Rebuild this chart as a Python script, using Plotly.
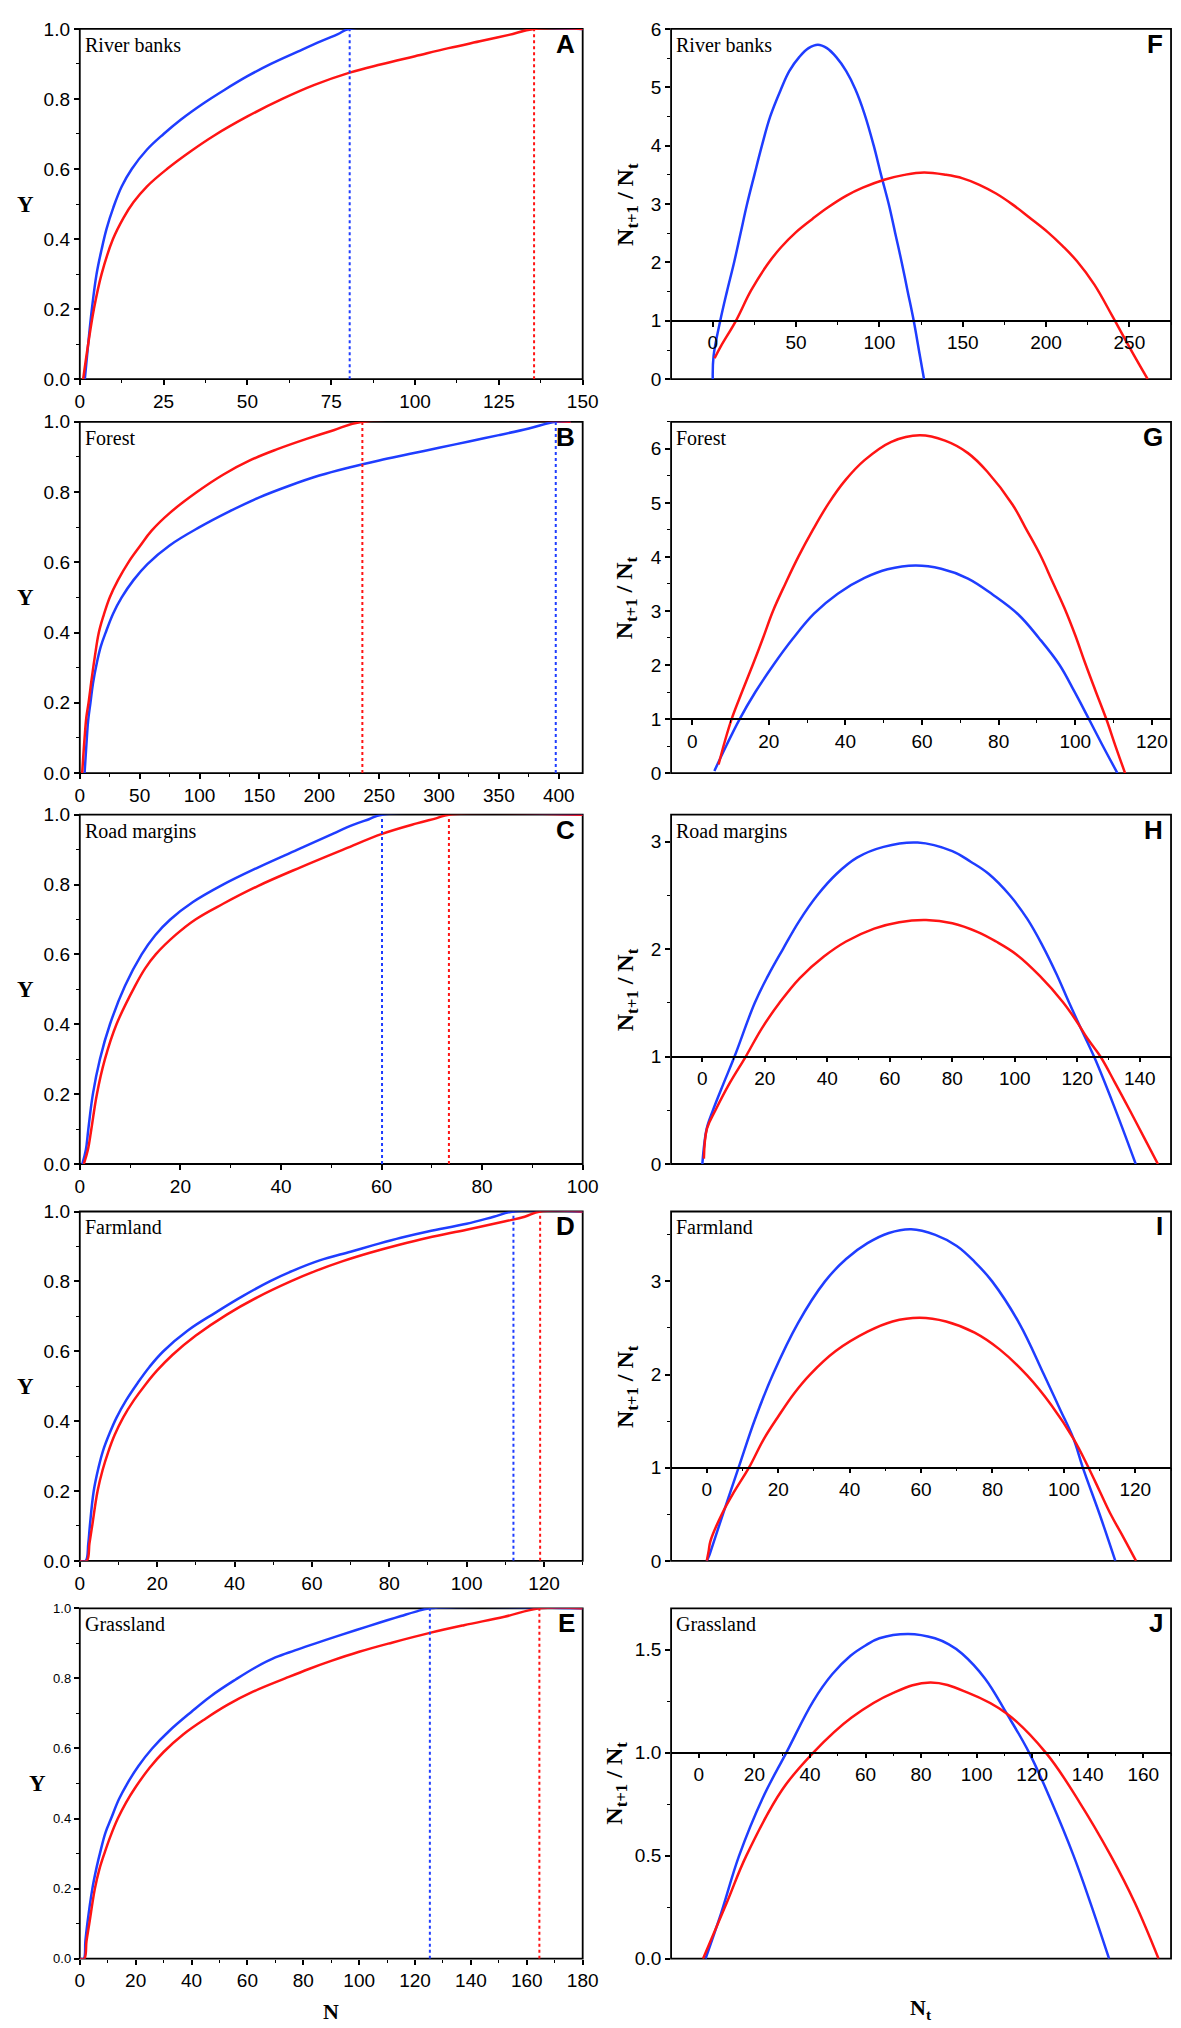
import plotly.graph_objects as go

# ---- page size & colours ----
W, H = 1181, 2028
BLUE = "#1f3dff"
RED = "#ff1414"
SANS = "Arial, Liberation Sans, sans-serif"
SERIF = "Times New Roman, Liberation Serif, serif"

habitats = ["River banks", "Forest", "Road margins", "Farmland", "Grassland"]
left_letters = ["A", "B", "C", "D", "E"]
right_letters = ["F", "G", "H", "I", "J"]

# ==== left column: Y against N ====
# A - River banks
a_blue_n = [1.5, 2.5, 3.6, 5, 6.5, 8, 10, 12.5, 15.5, 20, 25, 30, 36.5, 43, 50, 57, 65, 72, 77, 80.5, 150]
a_blue_y = [0, 0.1, 0.2, 0.3, 0.37, 0.43, 0.49, 0.55, 0.6, 0.655, 0.7, 0.74, 0.785, 0.825, 0.865,
            0.9, 0.935, 0.965, 0.985, 1, 1]
a_red_n = [1, 2.5, 4.2, 6.5, 9.9, 13, 16, 20, 26, 33, 40, 50, 60.4, 70, 80.5, 90, 100, 110, 120, 128,
           135.5, 150]
a_red_y = [0, 0.1, 0.2, 0.3, 0.4, 0.46, 0.505, 0.55, 0.6, 0.65, 0.695, 0.75, 0.8, 0.84, 0.875, 0.899,
           0.922, 0.945, 0.966, 0.983, 1, 1]
# B - Forest
b_blue_n = [4, 5.5, 7, 8.9, 11, 14, 17.5, 21.6, 28, 35, 45, 56.5, 75, 100, 125, 150, 175, 200, 225,
            250, 275, 300, 325, 350, 375, 397.5, 410]
b_blue_y = [0, 0.08, 0.15, 0.2, 0.255, 0.31, 0.36, 0.4, 0.455, 0.5, 0.55, 0.595, 0.648, 0.7, 0.745,
            0.785, 0.818, 0.847, 0.87, 0.89, 0.908, 0.926, 0.944, 0.962, 0.981, 1, 1]
b_red_n = [2, 4, 5.5, 7.3, 10, 12.5, 15.9, 20, 25, 32, 40.6, 50, 60, 75, 97.8, 120, 142, 165, 190,
           212, 236, 410]
b_red_y = [0, 0.1, 0.16, 0.2, 0.27, 0.33, 0.4, 0.45, 0.5, 0.55, 0.6, 0.645, 0.69, 0.74, 0.8, 0.85,
           0.89, 0.922, 0.952, 0.976, 1, 1]
# C - Road margins
c_blue_n = [0.5, 1.2, 1.7, 2.6, 4, 6, 9, 12.3, 15, 18, 22.5, 28.1, 35.3, 43.3, 50.4, 54.2, 57.5,
            60.1, 100]
c_blue_y = [0, 0.04, 0.1, 0.2, 0.3, 0.4, 0.51, 0.6, 0.655, 0.7, 0.75, 0.797, 0.848, 0.9, 0.946,
            0.97, 0.987, 1, 1]
c_red_n = [0.8, 1.6, 2.3, 3.4, 5, 7.3, 11, 13, 15.1, 19, 23, 28.5, 35.3, 44, 52.7, 60.1, 67, 71,
           73.4, 100]
c_red_y = [0, 0.04, 0.1, 0.2, 0.3, 0.4, 0.51, 0.56, 0.6, 0.655, 0.7, 0.745, 0.795, 0.85, 0.902,
           0.945, 0.975, 0.99, 1, 1]
# D - Farmland
d_blue_n = [0, 1.5, 2.2, 2.6, 3.6, 4.8, 6, 7.7, 9.5, 12, 15, 18, 21.6, 28, 35, 42, 49.1, 55, 62,
            70, 75.7, 83, 90, 100, 107, 112.1, 130]
d_blue_y = [0, 0, 0.05, 0.1, 0.2, 0.265, 0.315, 0.365, 0.41, 0.46, 0.51, 0.555, 0.6, 0.66, 0.71,
            0.757, 0.8, 0.83, 0.86, 0.885, 0.903, 0.925, 0.943, 0.965, 0.985, 1, 1]
d_red_n = [0, 1.8, 2.5, 3.2, 4.6, 5.9, 7.3, 9, 11.2, 14, 17, 20, 24, 30, 38, 46, 54.5, 61, 68, 75,
           82.6, 90, 100, 110, 115, 119, 130]
d_red_y = [0, 0, 0.05, 0.1, 0.2, 0.26, 0.31, 0.36, 0.41, 0.46, 0.505, 0.545, 0.59, 0.645, 0.705,
           0.755, 0.8, 0.83, 0.858, 0.882, 0.905, 0.925, 0.948, 0.972, 0.985, 1, 1]
# E - Grassland
e_blue_n = [0, 1.4, 2, 2.7, 4.5, 6, 7.5, 9.2, 11.2, 14, 17, 21, 25.9, 32, 40, 47, 55.8, 63, 70, 77,
            84.4, 93, 102.8, 110, 115, 120, 125.3, 180]
e_blue_y = [0, 0, 0.05, 0.1, 0.2, 0.26, 0.31, 0.36, 0.4, 0.455, 0.5, 0.55, 0.6, 0.65, 0.705, 0.75,
            0.797, 0.832, 0.86, 0.88, 0.9, 0.923, 0.948, 0.966, 0.978, 0.99, 1, 1]
e_red_n = [0, 1.6, 2.4, 3.4, 5.4, 7, 9, 11, 13.6, 16.5, 20, 25, 30, 37, 45, 53, 62, 73.5, 82, 90,
           100, 111.7, 125.3, 137.5, 152, 164.5, 180]
e_red_y = [0, 0, 0.05, 0.1, 0.2, 0.255, 0.305, 0.35, 0.4, 0.445, 0.49, 0.545, 0.59, 0.64, 0.685,
           0.725, 0.762, 0.8, 0.827, 0.85, 0.876, 0.902, 0.93, 0.952, 0.976, 1, 1]

# N at which each curve reaches Y = 1 (dotted markers)
reach_blue = [80.5, 397.5, 60.1, 112.1, 125.3]
reach_red = [135.5, 236, 73.4, 119, 164.5]

# ==== right column: N(t+1)/N(t) against N(t) ====
# F - River banks
f_blue_n = [0, 0.5, 4.5, 8.5, 12.8, 16.7, 20.6, 25, 29.5, 34.5, 40.7, 46, 52, 57.5, 63.1, 68.5, 74,
            80, 85.5, 91, 96.6, 101, 105.6, 109.5, 113.4, 117, 120.6, 124, 126.8]
f_blue_r = [0, 0.4, 1, 1.5, 2, 2.5, 3, 3.5, 4, 4.5, 4.95, 5.28, 5.52, 5.67, 5.73, 5.67, 5.52, 5.28,
            4.97, 4.55, 4.0, 3.5, 3, 2.5, 2, 1.5, 1, 0.45, 0]
f_red_n = [1.1, 5, 13.9, 23, 32.9, 41, 50, 60, 69, 80, 90, 103.4, 115, 126.8, 140, 150, 160, 170,
           180, 190, 201, 210, 218.6, 229, 239.8, 250, 261]
f_red_r = [0.36, 0.57, 1, 1.52, 1.97, 2.26, 2.52, 2.75, 2.94, 3.14, 3.28, 3.42, 3.5, 3.54, 3.5, 3.44,
           3.33, 3.18, 2.99, 2.77, 2.52, 2.28, 2.02, 1.62, 1.08, 0.55, 0]
# G - Forest
g_blue_n = [5.8, 9, 12.4, 16.5, 21.2, 26.2, 31.8, 38, 45, 51, 58.3, 65, 72, 78.5, 85.2, 90.5, 95.9,
            99.7, 103.2, 107, 111]
g_blue_r = [0.04, 0.52, 1, 1.5, 2, 2.48, 2.95, 3.32, 3.61, 3.77, 3.84, 3.78, 3.6, 3.3, 2.93, 2.5, 2.0,
            1.52, 1.05, 0.53, 0]
g_red_n = [6.9, 8.5, 10.3, 13, 15.8, 18.5, 21.1, 24.3, 27.7, 31.5, 35.7, 40, 45, 52, 59.4, 66, 72,
           77, 83.6, 87.3, 90.9, 94, 97.2, 100, 102.5, 105.3, 108.1, 110.5, 113]
g_red_r = [0.16, 0.58, 1, 1.5, 2, 2.5, 3, 3.5, 4, 4.5, 5, 5.42, 5.79, 6.13, 6.25, 6.15, 5.92, 5.58,
           4.97, 4.5, 4.03, 3.55, 3.05, 2.55, 2.05, 1.52, 1.0, 0.5, 0]
# H - Road margins
h_blue_n = [0, 0.6, 1.4, 3.4, 6.8, 10.3, 16.8, 21, 25.8, 31, 36.8, 43, 49.5, 58, 68.9, 80, 86, 91.6,
            98.4, 104, 108.9, 113.3, 117.4, 121.5, 125.5, 131.6, 138.7]
h_blue_r = [0, 0.18, 0.33, 0.5, 0.75, 1, 1.5, 1.75, 2, 2.26, 2.5, 2.7, 2.85, 2.95, 2.99, 2.91, 2.81,
            2.7, 2.5, 2.28, 2.03, 1.77, 1.5, 1.24, 0.99, 0.55, 0]
h_red_n = [0.5, 1.5, 4.2, 8.7, 13.9, 19, 24.7, 31.2, 38.9, 46, 55, 63, 71.6, 80, 88, 94, 100.5, 108,
           115.3, 119.5, 123.2, 127.4, 132, 136.8, 141.3, 145.8]
h_red_r = [0.05, 0.33, 0.5, 0.75, 1, 1.26, 1.5, 1.73, 1.93, 2.07, 2.19, 2.25, 2.27, 2.24, 2.16, 2.07,
           1.95, 1.75, 1.51, 1.34, 1.17, 1.0, 0.76, 0.5, 0.25, 0]
# I - Farmland
i_blue_n = [0, 0.7, 1.4, 4.5, 8.9, 13.5, 18.5, 25.5, 33.1, 39, 45, 51, 57.2, 64, 70, 75, 79.9, 87.5,
            94.4, 99, 102.7, 105.3, 110, 114.4]
i_blue_r = [0, 0.06, 0.14, 0.5, 1, 1.52, 2, 2.55, 3, 3.24, 3.41, 3.52, 3.56, 3.5, 3.38, 3.21, 3.0,
            2.55, 2.0, 1.62, 1.31, 1.0, 0.5, 0]
i_red_n = [0, 0.5, 1, 4.2, 7.8, 11.8, 16, 20, 24.5, 28.9, 36, 45, 52, 59.6, 67, 75, 82, 89.7, 96.5,
           102.7, 106.9, 110, 113.1, 116.7, 120.2]
i_red_r = [0, 0.1, 0.21, 0.5, 0.75, 1, 1.31, 1.55, 1.8, 2, 2.25, 2.46, 2.57, 2.61, 2.57, 2.45, 2.27,
           1.99, 1.67, 1.31, 1.0, 0.75, 0.5, 0.25, 0]
# J - Grassland
j_blue_n = [2.4, 8, 14.5, 23, 31.5, 41.2, 48, 54.6, 60, 65, 75.4, 85, 90, 94.8, 103, 110.8, 118.9,
            127, 134.9, 141, 147.7]
j_blue_r = [0, 0.22, 0.5, 0.78, 1, 1.25, 1.38, 1.47, 1.52, 1.555, 1.576, 1.555, 1.525, 1.48, 1.36,
            1.19, 1, 0.76, 0.5, 0.27, 0]
j_red_n = [1.5, 10, 17.1, 30, 41.2, 55, 70, 83.4, 97, 110.8, 124.9, 137, 148.3, 157, 165.5]
j_red_r = [0, 0.27, 0.5, 0.82, 1, 1.17, 1.29, 1.34, 1.29, 1.19, 1, 0.76, 0.5, 0.27, 0]

left_data = [
    (a_blue_n, a_blue_y, a_red_n, a_red_y),
    (b_blue_n, b_blue_y, b_red_n, b_red_y),
    (c_blue_n, c_blue_y, c_red_n, c_red_y),
    (d_blue_n, d_blue_y, d_red_n, d_red_y),
    (e_blue_n, e_blue_y, e_red_n, e_red_y),
]
right_data = [
    (f_blue_n, f_blue_r, f_red_n, f_red_r),
    (g_blue_n, g_blue_r, g_red_n, g_red_r),
    (h_blue_n, h_blue_r, h_red_n, h_red_r),
    (i_blue_n, i_blue_r, i_red_n, i_red_r),
    (j_blue_n, j_blue_r, j_red_n, j_red_r),
]

# axis settings
left_xrange = [(0, 150), (0, 420), (0, 100), (0, 130), (0, 180)]
left_xdtick = [25, 50, 20, 20, 20]
right_xrange = [(-25, 275), (-5.5, 125), (-10, 150), (-10, 130), (-10, 170)]
right_yrange = [(0, 6), (0, 6.5), (0, 3.25), (0, 3.75), (0, 1.7)]
right_xdtick = [50, 20, 20, 20, 20]
right_ydtick = [1, 1, 1, 1, 0.5]

# ---- layout geometry in pixels ----
LEFT_X = [68 / W, 580 / W]
RIGHT_X = [670 / W, 1179 / W]
rows_px = [(11, 365), (408, 763), (805, 1158), (1206, 1559), (1607, 1961)]


def ydom(top, bottom):
    return [1 - bottom / H, 1 - top / H]


def ax_id(n):
    # plotly names the first axis "x"/"y", later ones "x2"/"y2" ...
    s = "" if n == 1 else str(n)
    return "x" + s, "y" + s, "xaxis" + s, "yaxis" + s


def tickstyle(size=19):
    return dict(
        ticks="outside", ticklen=5, tickwidth=1.5, tickcolor="black",
        showgrid=False, zeroline=False, showline=False,
        tickfont=dict(family=SANS, size=size, color="black"),
    )


def curve(x, y, xa, ya, color):
    return go.Scatter(x=x, y=y, mode="lines", xaxis=xa, yaxis=ya,
                      line=dict(color=color, width=2.5, shape="spline", smoothing=1.1))


fig = go.Figure()
layout = {}
shapes = []
annotations = []

for i in range(5):
    top, bottom = rows_px[i]
    yd = ydom(top, bottom)
    lx, ly, lxa, lya = ax_id(2 * i + 1)
    rx, ry, rxa, rya = ax_id(2 * i + 2)

    # --- left panel ---
    bn, by, rdn, rdy = left_data[i]
    fig.add_trace(curve(bn, by, lx, ly, BLUE))
    fig.add_trace(curve(rdn, rdy, lx, ly, RED))
    fig.add_trace(go.Scatter(x=[reach_blue[i]] * 2, y=[0, 1], mode="lines", xaxis=lx, yaxis=ly,
                             line=dict(color=BLUE, width=2, dash="dot")))
    fig.add_trace(go.Scatter(x=[reach_red[i]] * 2, y=[0, 1], mode="lines", xaxis=lx, yaxis=ly,
                             line=dict(color=RED, width=2, dash="dot")))

    d = left_xdtick[i]
    layout[lxa] = dict(
        domain=LEFT_X, range=list(left_xrange[i]), anchor=ly, dtick=d, tick0=0,
        minor=dict(dtick=d / 2, ticks="outside", ticklen=3, tickwidth=1.2, tickcolor="black"),
        **tickstyle(),
    )
    layout[lya] = dict(
        domain=yd, range=[0, 1], anchor=lx, dtick=0.2, tick0=0, tickformat=".1f",
        minor=dict(dtick=0.1, ticks="outside", ticklen=3, tickwidth=1.2, tickcolor="black"),
        **tickstyle(13 if i == 4 else 19),
    )

    # --- right panel ---
    bn, br, rdn, rdr = right_data[i]
    fig.add_trace(curve(bn, br, rx, ry, BLUE))
    fig.add_trace(curve(rdn, rdr, rx, ry, RED))

    y0, y1 = right_yrange[i]
    pos = yd[0] + (1 - y0) / (y1 - y0) * (yd[1] - yd[0])  # x axis crosses at ratio = 1
    d = right_xdtick[i]
    xstyle = tickstyle()
    xstyle.update(showline=True, linecolor="black", linewidth=1.5)
    layout[rxa] = dict(
        domain=RIGHT_X, range=list(right_xrange[i]), anchor="free", position=pos,
        dtick=d, tick0=0,
        minor=dict(dtick=d / 2, ticks="outside", ticklen=3, tickwidth=1.2, tickcolor="black"),
        **xstyle,
    )
    dy = right_ydtick[i]
    layout[rya] = dict(
        domain=yd, range=[y0, y1], anchor=rx, dtick=dy, tick0=0,
        tickformat=".1f" if dy < 1 else "d",
        minor=dict(dtick=dy / 2, ticks="outside", ticklen=3, tickwidth=1.2, tickcolor="black"),
        **tickstyle(),
    )

    # frames (below the curves so the flat Y = 1 lines show on top)
    for xa, ya in ((lx, ly), (rx, ry)):
        shapes.append(dict(type="rect", xref=f"{xa} domain", yref=f"{ya} domain",
                           x0=0, x1=1, y0=0, y1=1, line=dict(color="black", width=1.8),
                           layer="below"))

    # habitat names and panel letters
    for dom, letter in ((LEFT_X, left_letters[i]), (RIGHT_X, right_letters[i])):
        annotations.append(dict(
            text=habitats[i], xref="paper", yref="paper",
            x=dom[0] + 3 / W, y=yd[1] - 3 / H, xanchor="left", yanchor="top",
            showarrow=False, font=dict(family=SERIF, size=20, color="black")))
        annotations.append(dict(
            text=f"<b>{letter}</b>", xref="paper", yref="paper",
            x=dom[1] - 6 / W, y=yd[1] - 15 / H, xanchor="right", yanchor="middle",
            showarrow=False, font=dict(family=SANS, size=26, color="black")))

    ymid = (yd[0] + yd[1]) / 2
    annotations.append(dict(
        text="<b>Y</b>", xref="paper", yref="paper",
        x=(25 if i == 4 else 13) / W, y=ymid, xanchor="center", yanchor="middle",
        showarrow=False, font=dict(family=SERIF, size=23, color="black")))
    annotations.append(dict(
        text="<b>N<sub>t+1</sub> / N<sub>t</sub></b>", xref="paper", yref="paper",
        x=(613 if i == 4 else 625) / W, y=ymid, xanchor="center", yanchor="middle",
        textangle=-90, showarrow=False, font=dict(family=SERIF, size=24, color="black")))

annotations.append(dict(
    text="<b>N</b>", xref="paper", yref="paper", x=324 / W, y=1 - 2014 / H,
    xanchor="center", yanchor="middle", showarrow=False,
    font=dict(family=SERIF, size=22, color="black")))
annotations.append(dict(
    text="<b>N<sub>t</sub></b>", xref="paper", yref="paper", x=924 / W, y=1 - 2012 / H,
    xanchor="center", yanchor="middle", showarrow=False,
    font=dict(family=SERIF, size=22, color="black")))

fig.update_layout(
    width=W, height=H, autosize=False,
    margin=dict(l=0, r=0, t=0, b=0),
    paper_bgcolor="white", plot_bgcolor="white",
    showlegend=False,
    shapes=shapes, annotations=annotations,
    **layout,
)

fig.write_html("out.html")
